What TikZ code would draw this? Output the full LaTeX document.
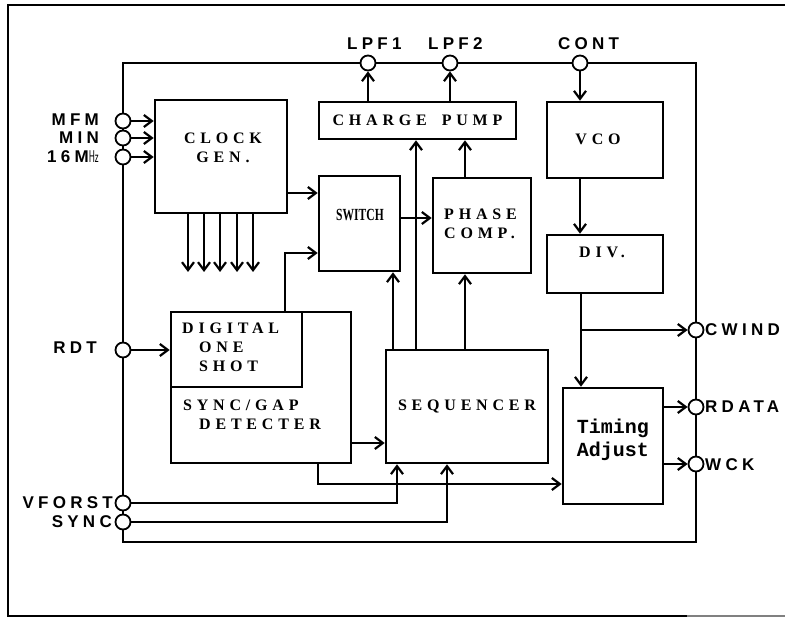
\documentclass[tikz,border=0pt]{standalone}
\usepackage{fontspec}
\usepackage{graphicx}
\setmainfont{Liberation Serif}
\newfontfamily\pinfont[LetterSpace=25]{Liberation Sans}
\newfontfamily\blkfont[LetterSpace=30]{Liberation Serif}
\newfontfamily\tafont{Liberation Mono}
\usetikzlibrary{positioning,arrows.meta,calc}

\begin{document}
\begin{tikzpicture}[
    x=1pt, y=-1pt,
    blk/.style={draw, line width=2.6pt, inner sep=0pt, align=center,
        font=\blkfont\bfseries\fontsize{16}{19}\selectfont},
    blktxt/.style={inner sep=0pt, align=left,
        font=\blkfont\bfseries\fontsize{16}{19}\selectfont},
    pin/.style={circle, draw, fill=white, line width=1.8pt, minimum size=15pt, inner sep=0pt},
    pinlbl/.style={inner sep=0pt, font=\pinfont\bfseries\fontsize{17}{20}\selectfont},
    sig/.style={line width=2.2pt, -{Straight Barb[length=8pt,width=12pt,line width=2.2pt]}}
]
\useasboundingbox (0,0) rectangle (785,617);
% outer frame
\draw[line width=2pt] (785,5) -| (8,616) -- (687,616);
\draw[line width=1.2pt, gray] (687,616) -- (785,616);

% chip outline
\node[draw, line width=2pt, minimum width=573pt, minimum height=479pt, inner sep=0pt] (chip) at (409.5,302.5) {};

% blocks
\node[blk, minimum width=132pt, minimum height=113pt] (clock) at (221,156.5) {};
\node[blk, minimum width=197pt, minimum height=37pt] (pump) at (417.5,120.5) {CHARGE\hspace{15pt}PUMP};
\node[blk, minimum width=81pt, minimum height=95pt] (switch) at (359.5,223.5) {};
\node[blk, minimum width=98pt, minimum height=95pt] (phase) at (482,225.5) {};
\node[blk, minimum width=116pt, minimum height=76pt] (vco) at (605,140) {};
\node[blk, minimum width=116pt, minimum height=58pt] (div) at (605,264) {};
\node[blk, minimum width=180pt, minimum height=151pt] (sgd) at (261,387.5) {};
\node[blk, minimum width=131pt, minimum height=75pt] (dos) at (236.5,349.5) {};
\node[blk, minimum width=162pt, minimum height=113pt] (seq) at (467,406.5) {SEQUENCER};
\node[blk, minimum width=100pt, minimum height=116pt] (tadj) at (613,446) {};

% block texts
\node[blktxt, align=center] (clocktxt) at (223,148) {CLOCK\\GEN.};
\node[inner sep=0pt, font=\bfseries\fontsize{17}{19}\selectfont] (switchtxt) at (360,215) {\scalebox{0.68}[1]{SWITCH}};
\node[blktxt, anchor=north west] (phasetxt) at (444,209) {PHASE\\COMP.};
\node[blktxt] (vcotxt) at (598,139.5) {VCO};
\node[blktxt] (divtxt) at (602,252) {DIV.};
\node[blktxt, anchor=north west] (dostxt) at (182,323) {DIGITAL\\\hspace*{17pt}ONE\\\hspace*{17pt}SHOT};
\node[blktxt, anchor=north west] (sgdtxt) at (183,400) {SYNC/GAP\\\hspace*{16pt}DETECTER};
\node[inner sep=0pt, align=center, font=\tafont\bfseries\fontsize{20}{23}\selectfont] (tadjtxt) at (613,440) {Timing\\Adjust};

% pins
\node[pin] (lpf1) at (368,63) {};
\node[pin] (lpf2) at (450,63) {};
\node[pin] (cont) at (580,63) {};
\node[pin] (mfm) at (123,121) {};
\node[pin] (min) at (123,138) {};
\node[pin] (mhz) at (123,157) {};
\node[pin] (rdt) at (123,350) {};
\node[pin] (vforst) at (123,503) {};
\node[pin] (sync) at (123,522) {};
\node[pin] (cwind) at (696,330) {};
\node[pin] (rdata) at (696,407) {};
\node[pin] (wck) at (696,464) {};

% pin labels
\node[pinlbl, anchor=base west] (lpf1lbl) at (347,50) {LPF1};
\node[pinlbl, anchor=base west] (lpf2lbl) at (428,50) {LPF2};
\node[pinlbl, anchor=base west] (contlbl) at (558,50) {CONT};
\node[pinlbl, anchor=base east] (mfmlbl) at (99,126) {MFM};
\node[pinlbl, anchor=base east] (minlbl) at (99,144) {MIN};
\node[pinlbl, anchor=base east] (mhzlbl) at (99,163) {16M{\normalfont\sffamily\fontsize{17}{20}\selectfont\scalebox{0.55}[1]{Hz}}};
\node[pinlbl, anchor=base east] (rdtlbl) at (97,354) {RDT};
\node[pinlbl, anchor=base east] (vforstlbl) at (113,509) {VFORST};
\node[pinlbl, anchor=base east] (synclbl) at (112,528) {SYNC};
\node[pinlbl, anchor=base west] (cwindlbl) at (705,336) {CWIND};
\node[pinlbl, anchor=base west] (rdatalbl) at (705,413) {RDATA};
\node[pinlbl, anchor=base west] (wcklbl) at (705,471) {WCK};

% inputs to clock gen.
\foreach \p in {mfm,min,mhz}
    \draw[sig] (\p.east) -- (\p.east -| clock.west);
\foreach \x [count=\i] in {188,204,220,237,253} {
    \coordinate (out\i) at (\x,272);
    \draw[sig] (clock.south -| out\i) -- (out\i);
}

% signal paths
\draw[sig] (clock.east |- 0,193) -- (switch.west |- 0,193);
\draw[sig] (dos.north -| 285,0) |- (switch.west |- 0,253);
\draw[sig] (switch.east |- 0,218) -- (phase.west |- 0,218);
\draw[sig] (seq.north -| 416,0) -- (pump.south -| 416,0);
\draw[sig] (phase.north -| 465,0) -- (pump.south -| 465,0);
\draw[sig] (seq.north -| 393,0) -- (switch.south -| 393,0);
\draw[sig] (seq.north -| 465,0) -- (phase.south -| 465,0);
\draw[sig] (pump.north -| lpf1) -- (lpf1.south);
\draw[sig] (pump.north -| lpf2) -- (lpf2.south);
\draw[sig] (cont.south) -- (vco.north -| cont);
\draw[sig] (vco.south -| cont) -- (div.north -| cont);
\coordinate (tap) at (581,330);
\draw[sig] (div.south -| tap) -- (tadj.north -| tap);
\draw[sig] (tap) -- (cwind.west);
\draw[sig] (tadj.east |- rdata) -- (rdata.west);
\draw[sig] (tadj.east |- wck) -- (wck.west);
\draw[sig] (rdt.east) -- (rdt -| dos.west);
\draw[sig] (sgd.east |- 0,443) -- (seq.west |- 0,443);
\draw[sig] (sgd.south -| 318,0) |- (tadj.west |- 0,484);
\draw[sig] (vforst.east) -| (seq.south -| 397,0);
\draw[sig] (sync.east) -| (seq.south -| 447,0);
\end{tikzpicture}
\end{document}
